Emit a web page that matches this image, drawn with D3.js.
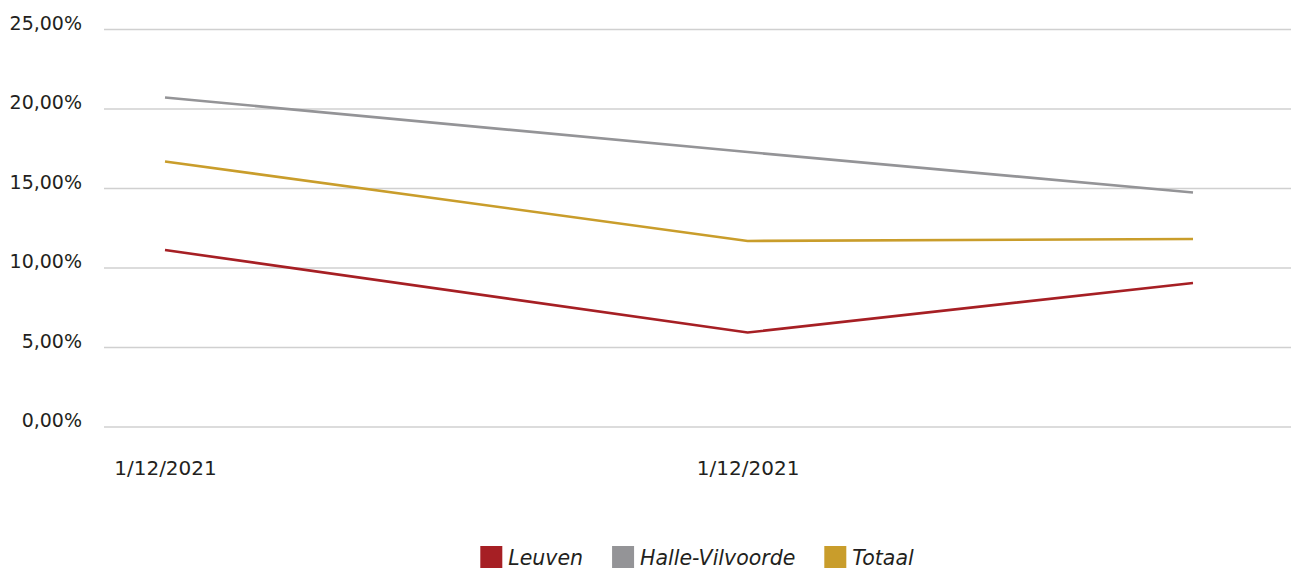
<!DOCTYPE html>
<html>
<head>
<meta charset="utf-8">
<script src="https://cdn.jsdelivr.net/npm/d3@7"></script>
<style>
  body { margin: 0; background: #fff; }
  text { font-family: "DejaVu Sans", sans-serif; fill: #231f20; }
</style>
</head>
<body>
<script>
'use strict';

// data
let dates = ["2021-12-01", "2022-12-01", "2023-09-06"];
let xTickLabels = ["1/12/2021", "1/12/2021"];
let yTicks = [0, 5, 10, 15, 20, 25];
let seriesNames = ["Leuven", "Halle-Vilvoorde", "Totaal"];
let seriesColors = ["#a61f24", "#949497", "#c99d2b"];
let leuven = [11.10, 5.91, 9.03];
let halleVilvoorde = [20.69, 17.26, 14.72];
let totaal = [16.67, 11.67, 11.79];

(function() {
  let svg = d3.select('body')
    .append('svg')
    .attr('width', 1291)
    .attr('height', 570);

  let parse = d3.timeParse("%Y-%m-%d");
  let xDates = dates.map(parse);

  // x: time scale, first and last point
  let xScale = d3.scaleTime()
    .domain([xDates[0], xDates[2]])
    .range([165, 1193]);

  let yScale = d3.scaleLinear()
    .domain([0, 25])
    .range([426.5, 29]);

  // gridlines + y labels
  let yAxis = d3.axisLeft(yScale)
    .tickValues(yTicks)
    .tickSize(-(1291 - 104))
    .tickPadding(22)
    .tickFormat((d) => d3.format(".2f")(d).replace(".", ",") + "%");
  let gy = svg.append('g')
    .attr('transform', 'translate(104, 0)')
    .call(yAxis);
  gy.select('.domain').remove();
  gy.selectAll('line').attr('stroke', '#d0d0d0').attr('stroke-width', 1.3);
  gy.selectAll('text').style('font-size', '19px').attr('dy', '0');

  // x labels
  let xAxis = d3.axisBottom(xScale)
    .tickValues([xDates[0], xDates[1]])
    .tickSize(0)
    .tickPadding(34)
    .tickFormat((d, i) => xTickLabels[i]);
  let gx = svg.append('g')
    .attr('transform', 'translate(0, 426.5)')
    .call(xAxis);
  gx.select('.domain').remove();
  gx.selectAll('text').style('font-size', '20px');

  // lines
  let allSeries = [leuven, halleVilvoorde, totaal];
  let line = d3.line()
    .x((d, i) => xScale(xDates[i]))
    .y((d) => yScale(d));
  // draw order: gray, gold, red on top
  [1, 2, 0].forEach(function(k) {
    svg.append('path')
      .attr('fill', 'none')
      .attr('stroke', seriesColors[k])
      .attr('stroke-width', 2.6)
      .attr('d', line(allSeries[k]));
  });

  // legend
  let legend = svg.append('g');
  let x = 0;
  for (let i = 0; i < seriesNames.length; i++) {
    let g = legend.append('g').attr('transform', 'translate(' + x + ',0)');
    g.append('rect')
      .attr('x', 0).attr('y', -11)
      .attr('width', 22).attr('height', 22)
      .attr('fill', seriesColors[i]);
    let t = g.append('text')
      .attr('x', 28).attr('y', 8)
      .style('font-size', '20.5px')
      .style('font-style', 'italic')
      .text(seriesNames[i]);
    let w = t.node().getComputedTextLength();
    x += 28 + w + 29;
  }
  let total = x - 29;
  legend.attr('transform', 'translate(' + (697 - total / 2) + ', 557)');
})();
</script>
</body>
</html>
